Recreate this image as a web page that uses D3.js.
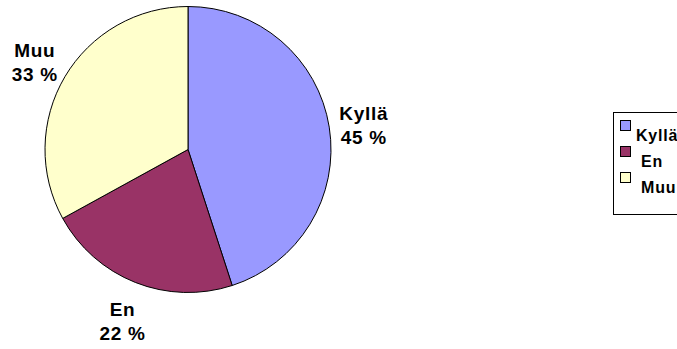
<!DOCTYPE html>
<html>
<head>
<meta charset="utf-8">
<script src="https://cdn.jsdelivr.net/npm/d3@7"></script>
<style>
  html, body { margin: 0; padding: 0; background: #fff; }
  svg { display: block; }
  text { font-family: "Liberation Sans", Arial, sans-serif; font-weight: bold; fill: #000; }
</style>
</head>
<body>
<svg id="chart" width="677" height="349"></svg>
<script>
// Answer categories and their shares (%)
const categories = ["Kyllä", "En", "Muu"];
const values = [45, 22, 33];
const colors = ["#9999FF", "#993366", "#FFFFCC"];

const width = 677, height = 349;
const cx = 188, cy = 149.5, radius = 143;

const svg = d3.select("#chart");

const data = categories.map((c, i) => ({ name: c, value: values[i], color: colors[i] }));

const pie = d3.pie().sort(null).value(d => d.value).startAngle(0).endAngle(2 * Math.PI);
const arcs = pie(data);
const arc = d3.arc().innerRadius(0).outerRadius(radius);

const g = svg.append("g").attr("transform", `translate(${cx},${cy})`);

g.selectAll("path.slice")
  .data(arcs)
  .join("path")
  .attr("class", "slice")
  .attr("d", arc)
  .attr("fill", d => d.data.color)
  .attr("stroke", "#000")
  .attr("stroke-width", 1)
  .attr("stroke-linejoin", "round");

// Outside data labels: two lines (name, percent), centred on a slightly
// flattened ring outside the pie, along each slice's mid-angle
const fontSize = 19, linePitch = 24, capH = fontSize * 0.716;
const ringX = radius + 35, ringY = radius + 37, dropY = 4;
function labelPos(d) {
  const a = (d.startAngle + d.endAngle) / 2;
  return [Math.sin(a) * ringX, -Math.cos(a) * ringY + dropY];
}

const labels = g.selectAll("g.label")
  .data(arcs)
  .join("g")
  .attr("class", "label")
  .attr("transform", d => `translate(${labelPos(d)})`);

const blockH = capH + linePitch;
labels.append("text")
  .attr("text-anchor", "middle")
  .attr("y", -blockH / 2 + capH)
  .style("font-size", fontSize + "px")
  .style("letter-spacing", "0.7px")
  .text(d => d.data.name);
labels.append("text")
  .attr("text-anchor", "middle")
  .attr("y", -blockH / 2 + capH + linePitch)
  .style("font-size", fontSize + "px")
  .style("letter-spacing", "0.7px")
  .text(d => d3.format(".0f")(d.data.value) + " %");

// Legend box (runs past the right edge of the canvas)
const legX = 613, legY = 112, legH = 102, legW = 200;
const legend = svg.append("g");
legend.append("rect")
  .attr("x", legX + 0.5).attr("y", legY + 0.5)
  .attr("width", legW).attr("height", legH)
  .attr("fill", "#fff").attr("stroke", "#000").attr("stroke-width", 1);

const rowY = d3.scalePoint().domain(categories).range([legY + 8, legY + 60]);
const items = legend.selectAll("g.item")
  .data(data)
  .join("g")
  .attr("class", "item");

items.append("rect")
  .attr("x", legX + 7.5)
  .attr("y", d => rowY(d.name) + 0.5)
  .attr("width", 10).attr("height", 10)
  .attr("fill", d => d.color)
  .attr("stroke", "#000").attr("stroke-width", 1);

items.append("text")
  .attr("x", (d, i) => legX + 23 + (i === 0 ? 0 : 5))
  .attr("y", d => rowY(d.name) + 21)
  .style("font-size", "16px")
  .style("letter-spacing", "0.8px")
  .text(d => d.name);
</script>
</body>
</html>
